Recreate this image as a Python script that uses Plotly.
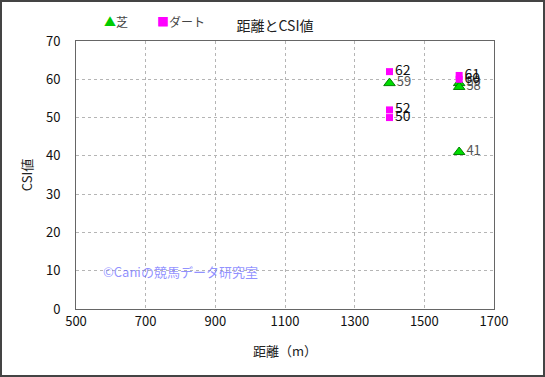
import plotly.graph_objects as go

turf_x = [1400, 1600, 1600, 1600]
turf_y = [59, 59, 58, 41]
dirt_x = [1400, 1400, 1400, 1600, 1600]
dirt_y = [62, 52, 50, 61, 60]

x_ticks = [500, 700, 900, 1100, 1300, 1500, 1700]
y_ticks = [0, 10, 20, 30, 40, 50, 60, 70]

FONT = "Noto Sans CJK JP, Liberation Sans, sans-serif"

fig = go.Figure()
fig.add_trace(go.Scatter(
    x=turf_x, y=turf_y, mode="markers+text", name="芝",
    marker=dict(symbol="triangle-up", size=10, color="#00dd00",
                line=dict(color="#008000", width=1)),
    text=[str(v) for v in turf_y], textposition="middle right",
    textfont=dict(size=13, color="#555555", family=FONT),
    cliponaxis=False,
))
fig.add_trace(go.Scatter(
    x=dirt_x, y=dirt_y, mode="markers+text", name="ダート",
    marker=dict(symbol="square", size=7, color="#ff00ff", line=dict(width=0)),
    text=[str(v) for v in dirt_y], textposition="middle right",
    textfont=dict(size=14, color="#111111", family=FONT),
    cliponaxis=False,
))

W, H = 545, 377
L, R, T, B = 76, 51, 41, 68
pw, ph = W - L - R, H - T - B

fig.add_shape(type="rect", xref="paper", yref="paper",
              x0=-(L - 1) / pw, x1=1 + (R - 1) / pw,
              y0=-(B - 1) / ph, y1=1 + (T - 1) / ph,
              line=dict(color="#444444", width=2), layer="below")

fig.add_annotation(x=573, y=9.8, xref="x", yref="y", text="©Caniの競馬データ研究室",
                   showarrow=False, xanchor="left", yanchor="middle",
                   font=dict(size=13, color="rgba(110,110,255,0.75)", family=FONT))

# legend entries (drawn as text)
legend_y = 1 + (T - 21) / ph
fig.add_annotation(x=(102 - L) / pw, y=legend_y, xref="paper", yref="paper",
                   text="<span style='color:#00cc00'>▲</span>芝",
                   showarrow=False, xanchor="left", yanchor="middle",
                   font=dict(size=12, color="#444444", family=FONT))
fig.add_annotation(x=(155 - L) / pw, y=legend_y, xref="paper", yref="paper",
                   text="<span style='color:#ff00ff'>■</span>ダート",
                   showarrow=False, xanchor="left", yanchor="middle",
                   font=dict(size=12, color="#444444", family=FONT))

fig.update_layout(
    width=W, height=H,
    margin=dict(l=L, r=R, t=T, b=B, autoexpand=False),
    paper_bgcolor="white", plot_bgcolor="white",
    font=dict(family=FONT, size=12, color="#222222"),
    title=dict(text="距離とCSI値", x=275 / W, xanchor="center", y=1 - 26 / H, yanchor="middle",
               font=dict(size=14, color="#222222", family=FONT)),
    showlegend=False,
    xaxis=dict(range=[500, 1700], tickmode="array", tickvals=x_ticks, automargin=False,
               showgrid=True, gridcolor="#b5b5b5", griddash="dot", gridwidth=1,
               showline=True, linecolor="#666666", linewidth=1, mirror=True,
               zeroline=False, ticks="", tickfont=dict(size=13, color="#111111"),
               title=dict(text="距離（m）", font=dict(size=13, color="#222222"), standoff=18)),
    yaxis=dict(range=[0, 70], tickmode="array", tickvals=y_ticks, automargin=False,
               showgrid=True, gridcolor="#b5b5b5", griddash="dot", gridwidth=1,
               showline=True, linecolor="#666666", linewidth=1, mirror=True,
               zeroline=False, ticks="", ticklabelstandoff=12, tickfont=dict(size=13, color="#111111"),
               title=dict(text="CSI値", font=dict(size=13, color="#222222"), standoff=10)),
)

fig.write_html("out.html", post_script="document.body.style.margin='0';",
               config={"displayModeBar": False})
